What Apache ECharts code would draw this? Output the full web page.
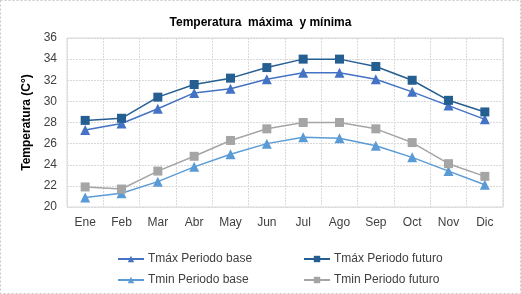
<!DOCTYPE html>
<html>
<head>
<meta charset="utf-8">
<script src="https://cdn.jsdelivr.net/npm/echarts@6/dist/echarts.min.js"></script>
<style>
  html, body { margin: 0; padding: 0; background: #fff; }
  #chart { width: 521px; height: 294px; }
</style>
</head>
<body>
<div id="chart"></div>
<script>
// datos
var meses = ['Ene', 'Feb', 'Mar', 'Abr', 'May', 'Jun', 'Jul', 'Ago', 'Sep', 'Oct', 'Nov', 'Dic'];
var tmaxBase = [27.3, 27.9, 29.3, 30.8, 31.2, 32.1, 32.7, 32.7, 32.1, 30.9, 29.6, 28.3];
var tmaxFuturo = [28.2, 28.4, 30.4, 31.6, 32.2, 33.2, 34.0, 34.0, 33.3, 32.0, 30.1, 29.0];
var tminBase = [20.9, 21.3, 22.4, 23.8, 25.0, 26.0, 26.6, 26.5, 25.8, 24.7, 23.4, 22.1];
var tminFuturo = [21.9, 21.7, 23.4, 24.8, 26.3, 27.4, 28.0, 28.0, 27.4, 26.1, 24.1, 22.9];

var fuente = 'Liberation Sans, Arial, sans-serif';
var myChart = echarts.init(document.getElementById('chart'));

function serie(nombre, datos, color, simbolo, tam) {
  return {
    name: nombre,
    type: 'line',
    data: datos,
    symbol: simbolo,
    symbolSize: tam,
    showAllSymbol: true,
    lineStyle: { color: color, width: 1.5 },
    itemStyle: { color: color },
    emphasis: { disabled: true },
    animation: false
  };
}

function leyenda(nombre, left, top) {
  return {
    data: [nombre],
    left: left,
    top: top,
    itemWidth: 26,
    itemHeight: 8,
    itemGap: 0,
    selectedMode: false,
    textStyle: { fontFamily: fuente, fontSize: 12, color: '#404040', padding: [0, 0, 0, -1] }
  };
}

myChart.setOption({
  animation: false,
  title: {
    text: 'Temperatura  máxima  y mínima',
    left: 'center',
    top: 12,
    textStyle: { fontFamily: fuente, fontSize: 12, fontWeight: 'bold', color: '#000' }
  },
  graphic: [{
    type: 'rect',
    shape: { x: 0.5, y: 0.5, width: 520, height: 293 },
    style: { fill: null, stroke: '#c8c8c8', lineWidth: 1, lineDash: [2, 2] },
    silent: true
  }],
  legend: [
    leyenda('Tmáx Periodo base', 112, 248),
    leyenda('Tmáx Periodo futuro', 298, 248),
    leyenda('Tmin Periodo base', 112, 269),
    leyenda('Tmin Periodo futuro', 298, 269)
  ],
  grid: { left: 67, right: 18, top: 38, bottom: 87, show: true, borderColor: '#d9d9d9', borderWidth: 1 },
  xAxis: {
    type: 'category',
    data: meses,
    boundaryGap: true,
    axisLine: { show: false },
    axisTick: { show: false },
    splitLine: { show: true, interval: 0, lineStyle: { color: '#d9d9d9', type: [2, 1] } },
    axisLabel: { fontFamily: fuente, fontSize: 12, color: '#404040', margin: 10, interval: 0 }
  },
  yAxis: {
    type: 'value',
    min: 20,
    max: 36,
    interval: 2,
    name: 'Temperatura (C°)',
    nameLocation: 'middle',
    nameGap: 29,
    nameTextStyle: { fontFamily: fuente, fontSize: 12, fontWeight: 'bold', color: '#000' },
    axisLine: { show: false },
    axisTick: { show: false },
    splitLine: { lineStyle: { color: '#d9d9d9', type: [2, 1] } },
    axisLabel: { fontFamily: fuente, fontSize: 12, color: '#404040', margin: 10 }
  },
  series: [
    serie('Tmáx Periodo base', tmaxBase, '#4472C4', 'triangle', 10),
    serie('Tmáx Periodo futuro', tmaxFuturo, '#255E91', 'rect', 9),
    serie('Tmin Periodo base', tminBase, '#5B9BD5', 'triangle', 10),
    serie('Tmin Periodo futuro', tminFuturo, '#A5A5A5', 'rect', 9)
  ]
});
</script>
</body>
</html>
